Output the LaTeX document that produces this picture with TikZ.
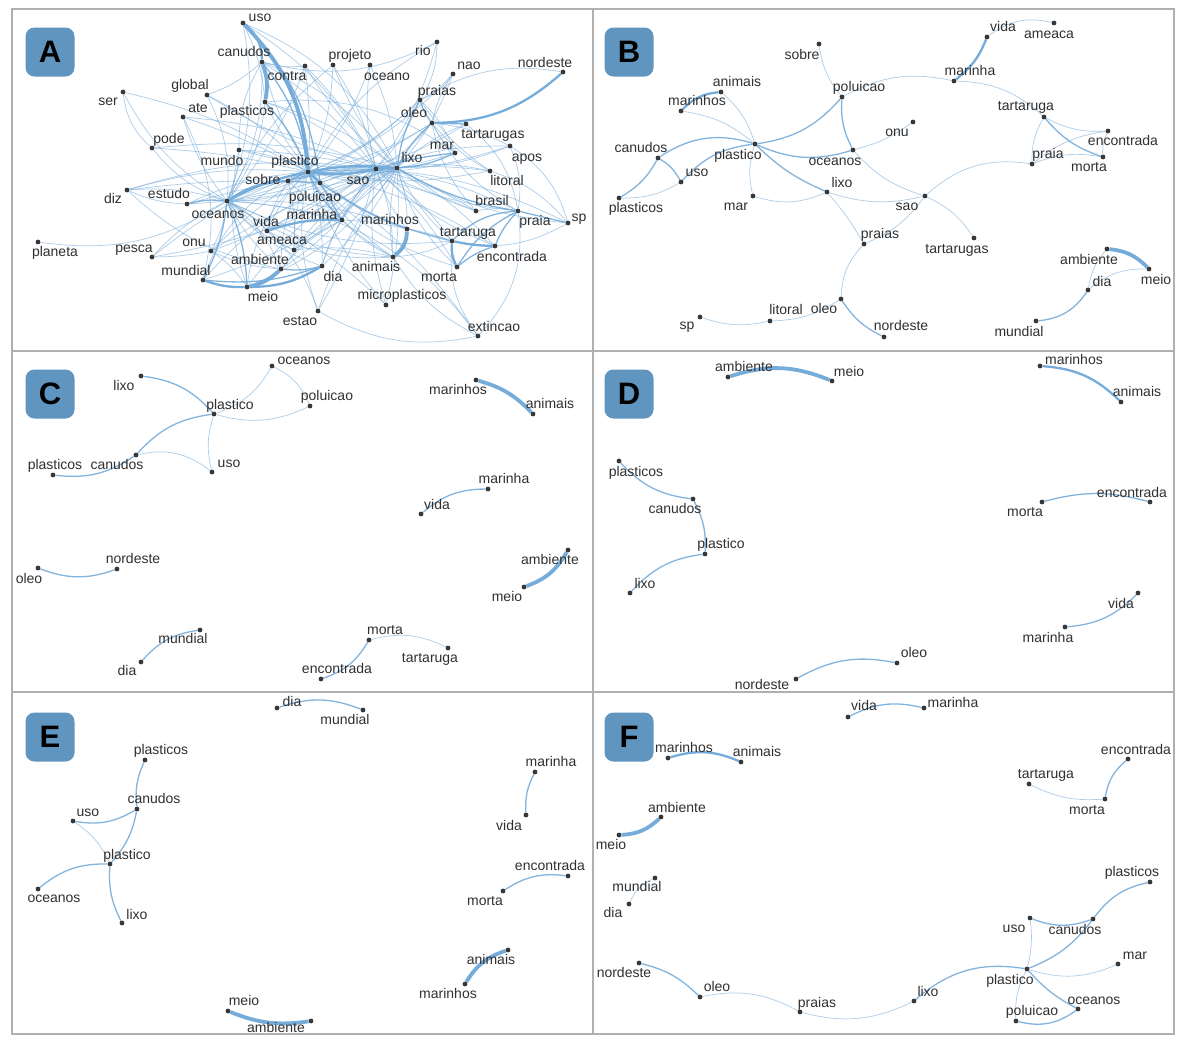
\documentclass[tikz,border=0pt]{standalone}
\usepackage{fontspec}
\setmainfont{Liberation Sans}
\pgfdeclarelayer{edgelayer}
\pgfsetlayers{edgelayer,main}
\definecolor{edgec}{RGB}{118,172,218}
\definecolor{dotc}{RGB}{55,55,55}
\definecolor{txtc}{RGB}{48,48,48}
\definecolor{boxc}{RGB}{96,149,192}
\definecolor{framec}{RGB}{176,176,176}
\tikzset{
 dot/.style={circle, fill=dotc, inner sep=0pt, minimum size=4.8pt},
 lbl/.style={font=\fontsize{14}{16}\selectfont, text=txtc, inner sep=0pt, text height=9.5pt, text depth=2.5pt},
 e1/.style={draw=edgec, line width=0.7pt, opacity=0.6},
 e2/.style={draw=edgec, line width=1.3pt, opacity=0.9},
 e3/.style={draw=edgec, line width=2.3pt},
 e4/.style={draw=edgec, line width=3.8pt},
 letterbox/.style={fill=boxc, rounded corners=9pt, minimum width=49pt, minimum height=49pt, inner sep=0pt, font=\fontsize{31}{31}\selectfont\bfseries, text=black},
 frameline/.style={draw=framec, line width=2pt},
}
\newcommand\mynode[6]{\node[dot] (#1-#2) at (#3,-#4) {}; \node[lbl] (#1-#2-l) at (#5,-#6) {#2};}
\newcommand\myedge[4]{\draw[#1] (#2) to[bend left=#4] (#3);}
\begin{document}
\begin{tikzpicture}[x=1pt,y=1pt]
\useasboundingbox (0,0) rectangle (1182,-1045);
\begin{pgfonlayer}{edgelayer}
\fill[white] (0,0) rectangle (1182,-1045);
\end{pgfonlayer}
% frames
\draw[frameline] (12,-9) rectangle (1174,-1034);
\draw[frameline] (593,-9) -- (593,-1034);
\draw[frameline] (12,-351) -- (1174,-351);
\draw[frameline] (12,-692) -- (1174,-692);
% letter boxes
\node[letterbox] (boxA) at (50,-52) {A};
\node[letterbox] (boxB) at (629,-52) {B};
\node[letterbox] (boxC) at (50,-394) {C};
\node[letterbox] (boxD) at (629,-394) {D};
\node[letterbox] (boxE) at (50,-737) {E};
\node[letterbox] (boxF) at (629,-737) {F};

% ===== Panel A nodes =====
\mynode{A}{uso}{243}{23}{260}{18}
\mynode{A}{canudos}{262}{62}{244}{53}
\mynode{A}{contra}{305}{66}{287}{77}
\mynode{A}{projeto}{333}{65}{350}{56}
\mynode{A}{oceano}{370}{65}{387}{77}
\mynode{A}{rio}{437}{42}{423}{52}
\mynode{A}{nao}{453}{74}{469}{66}
\mynode{A}{nordeste}{563}{72}{545}{64}
\mynode{A}{global}{207}{95}{190}{86}
\mynode{A}{ser}{123}{92}{108}{102}
\mynode{A}{ate}{183}{117}{198}{109}
\mynode{A}{plasticos}{265}{102}{247}{112}
\mynode{A}{praias}{420}{100}{437}{92}
\mynode{A}{oleo}{432}{123}{414}{114}
\mynode{A}{tartarugas}{466}{124}{493}{135}
\mynode{A}{pode}{152}{148}{169}{140}
\mynode{A}{mundo}{239}{150}{222}{162}
\mynode{A}{mar}{455}{153}{442}{146}
\mynode{A}{apos}{510}{146}{527}{158}
\mynode{A}{plastico}{308}{172}{295}{162}
\mynode{A}{lixo}{397}{168}{412}{159}
\mynode{A}{sao}{376}{169}{358}{181}
\mynode{A}{sobre}{288}{181}{263}{181}
\mynode{A}{poluicao}{320}{183}{315}{198}
\mynode{A}{litoral}{490}{171}{507}{182}
\mynode{A}{diz}{127}{190}{113}{200}
\mynode{A}{estudo}{187}{204}{169}{195}
\mynode{A}{oceanos}{227}{201}{218}{215}
\mynode{A}{brasil}{476}{211}{492}{202}
\mynode{A}{praia}{518}{211}{535}{222}
\mynode{A}{sp}{568}{223}{579}{218}
\mynode{A}{vida}{267}{231}{266}{223}
\mynode{A}{marinha}{342}{220}{312}{216}
\mynode{A}{marinhos}{407}{229}{390}{221}
\mynode{A}{tartaruga}{452}{241}{468}{233}
\mynode{A}{onu}{211}{251}{194}{243}
\mynode{A}{ameaca}{294}{250}{282}{241}
\mynode{A}{pesca}{152}{257}{134}{249}
\mynode{A}{planeta}{38}{242}{55}{253}
\mynode{A}{encontrada}{495}{246}{512}{258}
\mynode{A}{animais}{393}{257}{376}{268}
\mynode{A}{ambiente}{281}{269}{260}{261}
\mynode{A}{dia}{322}{266}{333}{278}
\mynode{A}{morta}{457}{267}{439}{278}
\mynode{A}{mundial}{203}{280}{186}{272}
\mynode{A}{meio}{247}{287}{263}{298}
\mynode{A}{microplasticos}{386}{305}{402}{296}
\mynode{A}{estao}{318}{311}{300}{322}
\mynode{A}{extincao}{478}{336}{494}{328}

% ===== Panel B nodes =====
\mynode{B}{sobre}{819}{44}{802}{56}
\mynode{B}{poluicao}{842}{97}{859}{88}
\mynode{B}{animais}{721}{92}{737}{83}
\mynode{B}{marinhos}{681}{111}{697}{102}
\mynode{B}{plastico}{755}{144}{738}{156}
\mynode{B}{canudos}{658}{158}{641}{149}
\mynode{B}{uso}{681}{182}{697}{173}
\mynode{B}{plasticos}{619}{198}{636}{209}
\mynode{B}{mar}{753}{196}{736}{207}
\mynode{B}{oceanos}{853}{150}{835}{162}
\mynode{B}{lixo}{827}{192}{842}{184}
\mynode{B}{praias}{864}{244}{880}{235}
\mynode{B}{oleo}{841}{299}{824}{310}
\mynode{B}{litoral}{770}{321}{786}{311}
\mynode{B}{sp}{700}{317}{687}{326}
\mynode{B}{nordeste}{884}{337}{901}{327}
\mynode{B}{vida}{987}{37}{1003}{28}
\mynode{B}{ameaca}{1054}{23}{1049}{35}
\mynode{B}{marinha}{954}{81}{970}{72}
\mynode{B}{tartaruga}{1044}{117}{1026}{107}
\mynode{B}{onu}{913}{122}{897}{133}
\mynode{B}{encontrada}{1108}{131}{1123}{142}
\mynode{B}{praia}{1032}{164}{1048}{155}
\mynode{B}{morta}{1103}{157}{1089}{168}
\mynode{B}{sao}{925}{196}{907}{207}
\mynode{B}{tartarugas}{974}{238}{957}{250}
\mynode{B}{ambiente}{1107}{249}{1089}{261}
\mynode{B}{meio}{1149}{269}{1156}{281}
\mynode{B}{dia}{1088}{290}{1102}{283}
\mynode{B}{mundial}{1036}{321}{1019}{333}

% ===== Panel C nodes =====
\mynode{C}{oceanos}{272}{366}{304}{361}
\mynode{C}{lixo}{141}{376}{124}{387}
\mynode{C}{plastico}{214}{414}{230}{406}
\mynode{C}{poluicao}{310}{406}{327}{397}
\mynode{C}{canudos}{136}{455}{117}{466}
\mynode{C}{plasticos}{53}{475}{55}{466}
\mynode{C}{uso}{212}{472}{229}{464}
\mynode{C}{marinhos}{476}{380}{458}{391}
\mynode{C}{animais}{533}{414}{550}{405}
\mynode{C}{marinha}{488}{489}{504}{480}
\mynode{C}{vida}{421}{514}{437}{506}
\mynode{C}{ambiente}{568}{550}{550}{561}
\mynode{C}{meio}{524}{587}{507}{598}
\mynode{C}{oleo}{38}{568}{29}{580}
\mynode{C}{nordeste}{117}{569}{133}{560}
\mynode{C}{mundial}{200}{630}{183}{640}
\mynode{C}{dia}{141}{662}{127}{672}
\mynode{C}{morta}{369}{640}{385}{631}
\mynode{C}{tartaruga}{448}{648}{430}{659}
\mynode{C}{encontrada}{321}{679}{337}{670}

% ===== Panel D nodes =====
\mynode{D}{ambiente}{728}{377}{744}{368}
\mynode{D}{meio}{832}{381}{849}{373}
\mynode{D}{marinhos}{1040}{366}{1074}{361}
\mynode{D}{animais}{1121}{402}{1137}{393}
\mynode{D}{plasticos}{619}{461}{636}{473}
\mynode{D}{canudos}{693}{499}{675}{510}
\mynode{D}{plastico}{705}{554}{721}{545}
\mynode{D}{lixo}{630}{593}{645}{585}
\mynode{D}{morta}{1042}{502}{1025}{513}
\mynode{D}{encontrada}{1150}{502}{1132}{494}
\mynode{D}{vida}{1138}{593}{1121}{605}
\mynode{D}{marinha}{1065}{627}{1048}{639}
\mynode{D}{oleo}{897}{663}{914}{654}
\mynode{D}{nordeste}{796}{679}{762}{686}

% ===== Panel E nodes =====
\mynode{E}{dia}{277}{708}{292}{703}
\mynode{E}{mundial}{363}{710}{345}{721}
\mynode{E}{plasticos}{145}{760}{161}{751}
\mynode{E}{canudos}{137}{809}{154}{800}
\mynode{E}{uso}{73}{821}{88}{813}
\mynode{E}{plastico}{110}{864}{127}{856}
\mynode{E}{oceanos}{38}{889}{54}{899}
\mynode{E}{lixo}{122}{923}{137}{916}
\mynode{E}{marinha}{535}{772}{551}{763}
\mynode{E}{vida}{526}{815}{509}{827}
\mynode{E}{encontrada}{568}{876}{550}{867}
\mynode{E}{morta}{503}{891}{485}{902}
\mynode{E}{animais}{508}{950}{491}{961}
\mynode{E}{marinhos}{465}{984}{448}{995}
\mynode{E}{meio}{228}{1011}{244}{1002}
\mynode{E}{ambiente}{311}{1021}{276}{1029}

% ===== Panel F nodes =====
\mynode{F}{vida}{848}{717}{864}{707}
\mynode{F}{marinha}{924}{708}{953}{704}
\mynode{F}{marinhos}{668}{758}{684}{749}
\mynode{F}{animais}{741}{762}{757}{753}
\mynode{F}{ambiente}{661}{817}{677}{809}
\mynode{F}{meio}{619}{835}{611}{846}
\mynode{F}{mundial}{655}{878}{637}{888}
\mynode{F}{dia}{629}{904}{613}{914}
\mynode{F}{encontrada}{1128}{759}{1136}{751}
\mynode{F}{tartaruga}{1029}{784}{1046}{775}
\mynode{F}{morta}{1105}{799}{1087}{811}
\mynode{F}{plasticos}{1150}{882}{1132}{873}
\mynode{F}{uso}{1030}{918}{1014}{929}
\mynode{F}{canudos}{1093}{919}{1075}{931}
\mynode{F}{mar}{1118}{964}{1135}{956}
\mynode{F}{plastico}{1027}{969}{1010}{981}
\mynode{F}{oceanos}{1078}{1009}{1094}{1001}
\mynode{F}{poluicao}{1016}{1021}{1032}{1012}
\mynode{F}{lixo}{914}{1001}{928}{993}
\mynode{F}{praias}{800}{1012}{817}{1004}
\mynode{F}{oleo}{700}{997}{717}{988}
\mynode{F}{nordeste}{639}{963}{624}{974}

\begin{pgfonlayer}{edgelayer}
% ===== Panel A edges =====
\myedge{e4}{A-uso}{A-plastico}{20}
\myedge{e3}{A-uso}{A-canudos}{25}
\myedge{e2}{A-uso}{A-poluicao}{18}
\myedge{e4}{A-canudos}{A-plasticos}{15}
\myedge{e2}{A-canudos}{A-plastico}{15}
\myedge{e2}{A-plasticos}{A-plastico}{10}
\myedge{e1}{A-uso}{A-plasticos}{10}
\myedge{e3}{A-oleo}{A-nordeste}{-20}
\myedge{e1}{A-praias}{A-nordeste}{20}
\myedge{e2}{A-oleo}{A-tartarugas}{0}
\myedge{e2}{A-praias}{A-oleo}{-10}
\myedge{e4}{A-marinhos}{A-animais}{25}
\myedge{e4}{A-ambiente}{A-meio}{15}
\myedge{e3}{A-mundial}{A-meio}{-10}
\myedge{e3}{A-vida}{A-marinha}{10}
\myedge{e3}{A-oceanos}{A-sobre}{15}
\myedge{e3}{A-oceanos}{A-plastico}{8}
\myedge{e3}{A-plastico}{A-sao}{-10}
\myedge{e3}{A-sao}{A-lixo}{0}
\myedge{e3}{A-plastico}{A-lixo}{8}
\myedge{e2}{A-lixo}{A-mar}{-10}
\myedge{e3}{A-plastico}{A-poluicao}{0}
\myedge{e2}{A-plastico}{A-sobre}{0}
\myedge{e2}{A-sobre}{A-poluicao}{0}
\myedge{e2}{A-poluicao}{A-marinha}{0}
\myedge{e2}{A-plastico}{A-marinha}{-10}
\myedge{e3}{A-tartaruga}{A-encontrada}{-5}
\myedge{e3}{A-tartaruga}{A-morta}{-15}
\myedge{e2}{A-morta}{A-encontrada}{10}
\myedge{e2}{A-encontrada}{A-praia}{10}
\myedge{e2}{A-morta}{A-praia}{15}
\myedge{e2}{A-tartaruga}{A-praia}{20}
\myedge{e3}{A-dia}{A-meio}{15}
\myedge{e2}{A-dia}{A-mundial}{12}
\myedge{e2}{A-ambiente}{A-dia}{-10}
\myedge{e2}{A-oceanos}{A-estudo}{-10}
\myedge{e2}{A-lixo}{A-praias}{10}
\myedge{e2}{A-poluicao}{A-tartaruga}{-10}
\myedge{e2}{A-lixo}{A-praia}{-10}
\myedge{e2}{A-sao}{A-mar}{5}
\myedge{e2}{A-sp}{A-praia}{0}
\myedge{e1}{A-litoral}{A-sp}{15}
\myedge{e1}{A-apos}{A-sp}{20}
\myedge{e2}{A-lixo}{A-oleo}{10}
\myedge{e2}{A-oceanos}{A-meio}{10}
\myedge{e2}{A-oceanos}{A-mundial}{10}
\myedge{e1}{A-ser}{A-pode}{-20}
\myedge{e1}{A-ser}{A-plastico}{10}
\myedge{e1}{A-ser}{A-oceanos}{-15}
\myedge{e1}{A-global}{A-plastico}{10}
\myedge{e1}{A-global}{A-canudos}{-10}
\myedge{e1}{A-global}{A-oceanos}{15}
\myedge{e1}{A-global}{A-sao}{-8}
\myedge{e1}{A-ate}{A-plastico}{5}
\myedge{e1}{A-ate}{A-sao}{10}
\myedge{e1}{A-ate}{A-mundial}{20}
\myedge{e1}{A-ate}{A-oceanos}{-10}
\myedge{e1}{A-pode}{A-plastico}{5}
\myedge{e1}{A-pode}{A-lixo}{10}
\myedge{e1}{A-pode}{A-oceanos}{-15}
\myedge{e1}{A-mundo}{A-plastico}{10}
\myedge{e1}{A-mundo}{A-sao}{5}
\myedge{e1}{A-mundo}{A-canudos}{15}
\myedge{e1}{A-mundo}{A-meio}{-15}
\myedge{e1}{A-mundo}{A-oceanos}{10}
\myedge{e1}{A-mundo}{A-lixo}{-8}
\myedge{e1}{A-diz}{A-estudo}{-10}
\myedge{e1}{A-diz}{A-oceanos}{10}
\myedge{e1}{A-diz}{A-plastico}{10}
\myedge{e1}{A-diz}{A-ambiente}{-15}
\myedge{e1}{A-diz}{A-poluicao}{5}
\myedge{e1}{A-diz}{A-sao}{12}
\myedge{e1}{A-estudo}{A-plastico}{10}
\myedge{e1}{A-estudo}{A-sao}{5}
\myedge{e1}{A-estudo}{A-lixo}{-6}
\myedge{e1}{A-planeta}{A-oceanos}{-20}
\myedge{e1}{A-pesca}{A-oceanos}{10}
\myedge{e1}{A-pesca}{A-plastico}{10}
\myedge{e1}{A-pesca}{A-onu}{-5}
\myedge{e1}{A-pesca}{A-lixo}{-10}
\myedge{e1}{A-onu}{A-oceanos}{-10}
\myedge{e1}{A-onu}{A-plastico}{5}
\myedge{e1}{A-onu}{A-meio}{10}
\myedge{e1}{A-onu}{A-ambiente}{-10}
\myedge{e1}{A-onu}{A-lixo}{8}
\myedge{e1}{A-onu}{A-sao}{-6}
\myedge{e1}{A-vida}{A-plastico}{10}
\myedge{e1}{A-vida}{A-oceanos}{-10}
\myedge{e1}{A-vida}{A-ameaca}{-10}
\myedge{e1}{A-vida}{A-animais}{-15}
\myedge{e1}{A-vida}{A-sobre}{10}
\myedge{e1}{A-vida}{A-lixo}{8}
\myedge{e1}{A-ameaca}{A-plastico}{10}
\myedge{e1}{A-ameaca}{A-marinha}{5}
\myedge{e1}{A-ameaca}{A-animais}{10}
\myedge{e1}{A-ameaca}{A-lixo}{15}
\myedge{e1}{A-ameaca}{A-oceanos}{12}
\myedge{e1}{A-ameaca}{A-sobre}{-8}
\myedge{e1}{A-ameaca}{A-sao}{-10}
\myedge{e1}{A-ambiente}{A-plastico}{15}
\myedge{e1}{A-ambiente}{A-lixo}{10}
\myedge{e1}{A-ambiente}{A-oceanos}{-15}
\myedge{e1}{A-ambiente}{A-sao}{-12}
\myedge{e1}{A-ambiente}{A-marinha}{10}
\myedge{e1}{A-meio}{A-plastico}{20}
\myedge{e1}{A-meio}{A-lixo}{-15}
\myedge{e1}{A-meio}{A-sao}{10}
\myedge{e1}{A-mundial}{A-plastico}{25}
\myedge{e1}{A-mundial}{A-lixo}{-12}
\myedge{e1}{A-mundial}{A-sao}{15}
\myedge{e1}{A-dia}{A-plastico}{-10}
\myedge{e1}{A-dia}{A-oceanos}{15}
\myedge{e1}{A-dia}{A-sao}{10}
\myedge{e1}{A-dia}{A-lixo}{-10}
\myedge{e1}{A-dia}{A-marinha}{8}
\myedge{e1}{A-estao}{A-plastico}{15}
\myedge{e1}{A-estao}{A-extincao}{-20}
\myedge{e1}{A-estao}{A-oceanos}{-20}
\myedge{e1}{A-estao}{A-lixo}{10}
\myedge{e1}{A-estao}{A-sao}{-8}
\myedge{e1}{A-microplasticos}{A-plastico}{10}
\myedge{e1}{A-microplasticos}{A-oceanos}{-10}
\myedge{e1}{A-microplasticos}{A-lixo}{-8}
\myedge{e1}{A-microplasticos}{A-sao}{12}
\myedge{e1}{A-extincao}{A-tartaruga}{20}
\myedge{e1}{A-extincao}{A-praia}{-25}
\myedge{e1}{A-extincao}{A-animais}{15}
\myedge{e1}{A-extincao}{A-plastico}{-10}
\myedge{e1}{A-extincao}{A-oceanos}{-25}
\myedge{e1}{A-animais}{A-plastico}{15}
\myedge{e1}{A-animais}{A-lixo}{10}
\myedge{e1}{A-animais}{A-sao}{-10}
\myedge{e1}{A-animais}{A-tartaruga}{-10}
\myedge{e1}{A-animais}{A-oceanos}{15}
\myedge{e1}{A-marinhos}{A-plastico}{10}
\myedge{e1}{A-marinhos}{A-lixo}{-10}
\myedge{e1}{A-marinhos}{A-tartaruga}{5}
\myedge{e1}{A-marinhos}{A-sao}{10}
\myedge{e1}{A-marinhos}{A-oceanos}{-10}
\myedge{e1}{A-morta}{A-lixo}{15}
\myedge{e1}{A-morta}{A-plastico}{15}
\myedge{e1}{A-morta}{A-sao}{-8}
\myedge{e1}{A-encontrada}{A-plastico}{-10}
\myedge{e1}{A-encontrada}{A-sao}{10}
\myedge{e1}{A-encontrada}{A-lixo}{-8}
\myedge{e1}{A-tartaruga}{A-sao}{-10}
\myedge{e1}{A-tartaruga}{A-lixo}{10}
\myedge{e1}{A-tartaruga}{A-oceanos}{15}
\myedge{e1}{A-brasil}{A-plastico}{-10}
\myedge{e1}{A-brasil}{A-lixo}{10}
\myedge{e1}{A-brasil}{A-praia}{10}
\myedge{e1}{A-brasil}{A-oleo}{15}
\myedge{e1}{A-brasil}{A-sao}{-8}
\myedge{e1}{A-praia}{A-oleo}{15}
\myedge{e1}{A-praia}{A-plastico}{-15}
\myedge{e1}{A-praia}{A-sao}{10}
\myedge{e1}{A-sp}{A-plastico}{-15}
\myedge{e1}{A-sp}{A-tartaruga}{20}
\myedge{e1}{A-sp}{A-lixo}{12}
\myedge{e1}{A-litoral}{A-oleo}{10}
\myedge{e1}{A-litoral}{A-lixo}{-10}
\myedge{e1}{A-litoral}{A-praias}{10}
\myedge{e1}{A-litoral}{A-plastico}{10}
\myedge{e1}{A-litoral}{A-sao}{-6}
\myedge{e1}{A-apos}{A-plastico}{10}
\myedge{e1}{A-apos}{A-oleo}{-10}
\myedge{e1}{A-apos}{A-lixo}{10}
\myedge{e1}{A-apos}{A-praia}{15}
\myedge{e1}{A-apos}{A-sao}{-10}
\myedge{e1}{A-mar}{A-plastico}{10}
\myedge{e1}{A-mar}{A-oleo}{10}
\myedge{e1}{A-mar}{A-praias}{-12}
\myedge{e1}{A-tartarugas}{A-lixo}{-10}
\myedge{e1}{A-tartarugas}{A-plastico}{15}
\myedge{e1}{A-tartarugas}{A-praia}{20}
\myedge{e1}{A-oleo}{A-plastico}{10}
\myedge{e1}{A-oleo}{A-sao}{10}
\myedge{e1}{A-oleo}{A-oceanos}{12}
\myedge{e1}{A-praias}{A-plastico}{10}
\myedge{e1}{A-praias}{A-sao}{10}
\myedge{e1}{A-praias}{A-oceanos}{15}
\myedge{e1}{A-nao}{A-praias}{15}
\myedge{e1}{A-nao}{A-oleo}{-10}
\myedge{e1}{A-nao}{A-lixo}{10}
\myedge{e1}{A-nao}{A-plastico}{12}
\myedge{e1}{A-rio}{A-praias}{15}
\myedge{e1}{A-rio}{A-plastico}{-15}
\myedge{e1}{A-rio}{A-canudos}{20}
\myedge{e1}{A-rio}{A-sao}{10}
\myedge{e1}{A-oceano}{A-plastico}{10}
\myedge{e1}{A-oceano}{A-sao}{-10}
\myedge{e1}{A-oceano}{A-lixo}{10}
\myedge{e1}{A-projeto}{A-plastico}{10}
\myedge{e1}{A-projeto}{A-lixo}{-10}
\myedge{e1}{A-projeto}{A-sao}{10}
\myedge{e1}{A-projeto}{A-oceanos}{-12}
\myedge{e1}{A-contra}{A-plastico}{5}
\myedge{e1}{A-contra}{A-lixo}{-10}
\myedge{e1}{A-contra}{A-canudos}{10}
\myedge{e1}{A-contra}{A-sao}{10}
\myedge{e1}{A-contra}{A-oceanos}{10}
\myedge{e1}{A-canudos}{A-sao}{10}
\myedge{e1}{A-canudos}{A-lixo}{15}
\myedge{e1}{A-canudos}{A-oceanos}{15}
\myedge{e1}{A-canudos}{A-poluicao}{-10}
\myedge{e1}{A-plasticos}{A-sao}{10}
\myedge{e1}{A-plasticos}{A-lixo}{10}
\myedge{e1}{A-plasticos}{A-oceanos}{15}
\myedge{e1}{A-plasticos}{A-mar}{20}
\myedge{e1}{A-plasticos}{A-poluicao}{-8}
\myedge{e1}{A-uso}{A-sao}{15}
\myedge{e1}{A-uso}{A-lixo}{20}
\myedge{e1}{A-uso}{A-oceanos}{15}
\myedge{e1}{A-sobre}{A-sao}{5}
\myedge{e1}{A-sobre}{A-lixo}{10}
\myedge{e1}{A-sobre}{A-marinha}{-5}
\myedge{e1}{A-poluicao}{A-sao}{5}
\myedge{e1}{A-poluicao}{A-lixo}{10}
\myedge{e1}{A-poluicao}{A-animais}{-10}
\myedge{e1}{A-poluicao}{A-oceanos}{10}
\myedge{e1}{A-marinha}{A-lixo}{10}
\myedge{e1}{A-marinha}{A-sao}{5}
\myedge{e1}{A-marinha}{A-animais}{-10}
\myedge{e1}{A-marinha}{A-marinhos}{5}
\myedge{e1}{A-oceanos}{A-lixo}{15}
\myedge{e1}{A-oceanos}{A-sao}{10}
\myedge{e1}{A-oceanos}{A-marinha}{5}
\myedge{e1}{A-oceanos}{A-ambiente}{-10}

% ===== Panel B edges =====
\myedge{e1}{B-sobre}{B-poluicao}{-15}
\myedge{e2}{B-plastico}{B-poluicao}{-20}
\myedge{e2}{B-poluicao}{B-oceanos}{-15}
\myedge{e1}{B-poluicao}{B-marinha}{20}
\myedge{e1}{B-marinha}{B-tartaruga}{20}
\myedge{e3}{B-marinha}{B-vida}{-15}
\myedge{e1}{B-vida}{B-ameaca}{25}
\myedge{e2}{B-tartaruga}{B-morta}{-15}
\myedge{e1}{B-tartaruga}{B-encontrada}{-15}
\myedge{e1}{B-tartaruga}{B-praia}{-15}
\myedge{e1}{B-praia}{B-encontrada}{15}
\myedge{e1}{B-praia}{B-morta}{15}
\myedge{e1}{B-encontrada}{B-morta}{-15}
\myedge{e1}{B-sao}{B-praia}{25}
\myedge{e1}{B-sao}{B-tartarugas}{15}
\myedge{e1}{B-sao}{B-praias}{15}
\myedge{e1}{B-lixo}{B-sao}{-15}
\myedge{e1}{B-oceanos}{B-sao}{-15}
\myedge{e1}{B-onu}{B-oceanos}{10}
\myedge{e1}{B-plastico}{B-animais}{-15}
\myedge{e1}{B-plastico}{B-marinhos}{-15}
\myedge{e3}{B-animais}{B-marinhos}{-20}
\myedge{e2}{B-canudos}{B-plastico}{25}
\myedge{e2}{B-canudos}{B-plasticos}{15}
\myedge{e2}{B-canudos}{B-uso}{15}
\myedge{e1}{B-uso}{B-plasticos}{15}
\myedge{e2}{B-uso}{B-plastico}{20}
\myedge{e2}{B-plastico}{B-oceanos}{-20}
\myedge{e2}{B-plastico}{B-lixo}{-10}
\myedge{e1}{B-plastico}{B-mar}{-15}
\myedge{e1}{B-mar}{B-lixo}{-20}
\myedge{e1}{B-lixo}{B-praias}{5}
\myedge{e1}{B-praias}{B-oleo}{-20}
\myedge{e1}{B-oleo}{B-litoral}{15}
\myedge{e1}{B-litoral}{B-sp}{15}
\myedge{e2}{B-oleo}{B-nordeste}{-15}
\myedge{e4}{B-ambiente}{B-meio}{20}
\myedge{e1}{B-ambiente}{B-dia}{-15}
\myedge{e1}{B-dia}{B-meio}{20}
\myedge{e2}{B-dia}{B-mundial}{25}

% ===== Panel C edges =====
\myedge{e2}{C-lixo}{C-plastico}{20}
\myedge{e1}{C-plastico}{C-oceanos}{-20}
\myedge{e1}{C-oceanos}{C-poluicao}{20}
\myedge{e1}{C-plastico}{C-poluicao}{-20}
\myedge{e2}{C-plastico}{C-canudos}{-20}
\myedge{e1}{C-plastico}{C-uso}{-15}
\myedge{e1}{C-canudos}{C-uso}{25}
\myedge{e2}{C-canudos}{C-plasticos}{20}
\myedge{e4}{C-marinhos}{C-animais}{15}
\myedge{e2}{C-vida}{C-marinha}{20}
\myedge{e4}{C-ambiente}{C-meio}{20}
\myedge{e2}{C-oleo}{C-nordeste}{-20}
\myedge{e2}{C-dia}{C-mundial}{20}
\myedge{e1}{C-morta}{C-tartaruga}{20}
\myedge{e2}{C-encontrada}{C-morta}{-20}

% ===== Panel D edges =====
\myedge{e4}{D-ambiente}{D-meio}{20}
\myedge{e3}{D-marinhos}{D-animais}{20}
\myedge{e2}{D-plasticos}{D-canudos}{-20}
\myedge{e2}{D-canudos}{D-plastico}{15}
\myedge{e2}{D-plastico}{D-lixo}{-20}
\myedge{e2}{D-morta}{D-encontrada}{15}
\myedge{e2}{D-marinha}{D-vida}{-20}
\myedge{e2}{D-nordeste}{D-oleo}{20}

% ===== Panel E edges =====
\myedge{e2}{E-dia}{E-mundial}{20}
\myedge{e2}{E-plasticos}{E-canudos}{-15}
\myedge{e2}{E-canudos}{E-uso}{20}
\myedge{e2}{E-canudos}{E-plastico}{15}
\myedge{e1}{E-uso}{E-plastico}{15}
\myedge{e2}{E-plastico}{E-oceanos}{-20}
\myedge{e2}{E-plastico}{E-lixo}{-15}
\myedge{e2}{E-marinha}{E-vida}{-15}
\myedge{e2}{E-morta}{E-encontrada}{20}
\myedge{e4}{E-marinhos}{E-animais}{20}
\myedge{e4}{E-meio}{E-ambiente}{-15}

% ===== Panel F edges =====
\myedge{e2}{F-vida}{F-marinha}{20}
\myedge{e3}{F-marinhos}{F-animais}{20}
\myedge{e4}{F-meio}{F-ambiente}{-20}
\myedge{e1}{F-dia}{F-mundial}{20}
\myedge{e1}{F-tartaruga}{F-morta}{-15}
\myedge{e2}{F-morta}{F-encontrada}{20}
\myedge{e2}{F-canudos}{F-plasticos}{20}
\myedge{e2}{F-uso}{F-canudos}{-20}
\myedge{e2}{F-canudos}{F-plastico}{15}
\myedge{e1}{F-uso}{F-plastico}{10}
\myedge{e1}{F-plastico}{F-mar}{-20}
\myedge{e2}{F-lixo}{F-plastico}{25}
\myedge{e2}{F-plastico}{F-oceanos}{-10}
\myedge{e1}{F-plastico}{F-poluicao}{-15}
\myedge{e2}{F-poluicao}{F-oceanos}{-25}
\myedge{e1}{F-praias}{F-lixo}{-20}
\myedge{e1}{F-oleo}{F-praias}{20}
\myedge{e2}{F-nordeste}{F-oleo}{15}
\end{pgfonlayer}
\end{tikzpicture}
\end{document}
